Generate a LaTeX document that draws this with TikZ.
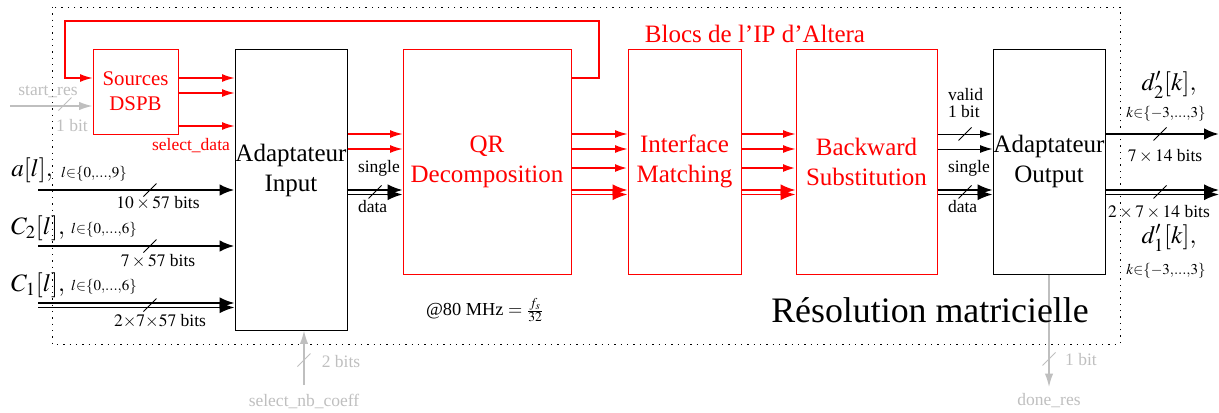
\documentclass[tikz,border=0pt]{standalone}
\usepackage{mathptmx}
\usepackage[no-math]{fontspec}
\setmainfont{Liberation Serif}
\usetikzlibrary{arrows.meta}

\tikzset{
  blk/.style={draw, line width=0.6pt, inner sep=0pt, align=center, font=\fontsize{15}{18}\selectfont},
  ipblk/.style={blk, red, text=red},
  sig/.style={red, line width=0.7pt, -{Latex[length=7.5pt,width=4.8pt]}},
  sigw/.style={sig, line width=1.3pt},
  bus/.style={line width=1.5pt, -{Latex[length=9pt,width=7pt]}},
  dbus/.style={line width=1.1pt, -{Latex[length=9pt,width=7pt]}},
  wire/.style={line width=0.6pt, -{Latex[length=7.5pt,width=4.8pt]}},
  ctl/.style={black!25, line width=0.8pt, -{Latex[length=8pt,width=5pt]}},
  lbl/.style={inner sep=1pt, font=\fontsize{10.5}{12.5}\selectfont},
  idx/.style={inner sep=1pt, font=\fontsize{12}{14}\selectfont},
  big/.style={inner sep=1pt, align=center, font=\fontsize{15}{18}\selectfont},
}

\newcommand\busmark[2][]{\draw[line width=0.5pt,#1] ([shift={(-6.5,6.5)}]#2) -- ([shift={(6.5,-6.5)}]#2);}

\begin{document}
\begin{tikzpicture}[x=0.6pt, y=-0.6pt]

% Size of the picture
\useasboundingbox (0,0) rectangle (1219,412);

% Levels of the signals
\coordinate (yS1) at (0,78);
\coordinate (yS2) at (0,93);
\coordinate (yS3) at (0,126);
\coordinate (yStart) at (0,106);
\coordinate (yR1) at (0,134);
\coordinate (yR2) at (0,149);
\coordinate (yR3) at (0,168);
\coordinate (yD1) at (0,190);
\coordinate (yD2) at (0,194.5);
\coordinate (yA) at (0,190);
\coordinate (yC2) at (0,246);
\coordinate (yC1a) at (0,303);
\coordinate (yC1b) at (0,307.5);

% Free ends
\coordinate (startIn) at (10,106);
\coordinate (aIn) at (38,190);
\coordinate (c2In) at (38,246);
\coordinate (c1InA) at (38,303);
\coordinate (c1InB) at (38,307.5);
\coordinate (nbIn) at (304,385);
\coordinate (doneOut) at (1049,387);
\coordinate (d2Out) at (1219,134);
\coordinate (d1OutA) at (1219,190);
\coordinate (d1OutB) at (1219,194.5);
\coordinate (fbR) at (599,21);
\coordinate (fbL) at (65,21);

% Dotted frame
\draw[line width=0.6pt, dash pattern=on 0.8pt off 3pt] (52,7) rectangle (1120,344);

% Blocks
\node[ipblk, minimum width=51pt, minimum height=51pt, font=\fontsize{12.5}{15}\selectfont] (src) at (135.5,91.5) {Sources\\DSPB};
\node[blk, minimum width=67.2pt, minimum height=168.6pt] (ai) at (291,189.5) {};
\node[big] (aiTxt) at (291,170) {Adaptateur\\Input};
\node[ipblk, minimum width=100.8pt, minimum height=135pt] (qr) at (487,161.5) {QR\\Decomposition};
\node[ipblk, minimum width=67.8pt, minimum height=135pt] (im) at (684.5,161.5) {Interface\\Matching};
\node[ipblk, minimum width=84.6pt, minimum height=135pt] (bs) at (866.5,161.5) {Backward\\Substitution};
\node[blk, minimum width=67.2pt, minimum height=135pt] (ao) at (1049,161.5) {Adaptateur\\Output};

% Feedback of the IP
\draw[sig] (qr.east |- yS1) -| (fbR) -- (fbL) |- (src.west |- yS1);

% Sources to input adapter
\draw[sig] (src.east |- yS1) -- (ai.west |- yS1);
\draw[sig] (src.east |- yS2) -- (ai.west |- yS2);
\draw[sig] (src.east |- yS3) -- (ai.west |- yS3);
\draw[ctl] (startIn) -- (src.west |- yStart);

% Inputs
\draw[bus] (aIn) -- (ai.west |- yA);
\draw[bus] (c2In) -- (ai.west |- yC2);
\draw[dbus] (c1InA) -- (ai.west |- yC1a);
\draw[dbus] (c1InB) -- (ai.west |- yC1b);

% Input adapter to QR
\draw[sig] (ai.east |- yR1) -- (qr.west |- yR1);
\draw[sig] (ai.east |- yR2) -- (qr.west |- yR2);
\draw[dbus] (ai.east |- yD1) -- (qr.west |- yD1);
\draw[dbus] (ai.east |- yD2) -- (qr.west |- yD2);

% QR to interface
\draw[sig] (qr.east |- yR1) -- (im.west |- yR1);
\draw[sig] (qr.east |- yR2) -- (im.west |- yR2);
\draw[sigw] (qr.east |- yR3) -- (im.west |- yR3);
\draw[dbus, red] (qr.east |- yD1) -- (im.west |- yD1);
\draw[dbus, red] (qr.east |- yD2) -- (im.west |- yD2);

% Interface to backward
\draw[sig] (im.east |- yR1) -- (bs.west |- yR1);
\draw[sig] (im.east |- yR2) -- (bs.west |- yR2);
\draw[sigw] (im.east |- yR3) -- (bs.west |- yR3);
\draw[dbus, red] (im.east |- yD1) -- (bs.west |- yD1);
\draw[dbus, red] (im.east |- yD2) -- (bs.west |- yD2);

% Backward to output adapter
\draw[wire] (bs.east |- yR1) -- (ao.west |- yR1);
\draw[wire] (bs.east |- yR2) -- (ao.west |- yR2);
\draw[dbus] (bs.east |- yD1) -- (ao.west |- yD1);
\draw[dbus] (bs.east |- yD2) -- (ao.west |- yD2);

% Outputs
\draw[bus] (ao.east |- yR1) -- (d2Out);
\draw[dbus] (ao.east |- yD1) -- (d1OutA);
\draw[dbus] (ao.east |- yD2) -- (d1OutB);

% Control signals
\draw[ctl] (nbIn) -- (ai.south -| nbIn);
\draw[ctl] (ao.south) -- (doneOut);

% Bus width marks
\coordinate (mStart) at (65,104);
\coordinate (mA) at (150,190);
\coordinate (mC2) at (150,246);
\coordinate (mC1) at (150,305);
\coordinate (mAI) at (375,192);
\coordinate (mValid) at (965,134);
\coordinate (mBS) at (965,192);
\coordinate (mD2) at (1160,134);
\coordinate (mD1) at (1160,192);
\coordinate (mNb) at (304,360);
\coordinate (mDone) at (1049,359);
\busmark[black!25]{mStart}
\busmark{mA}
\busmark{mC2}
\busmark{mC1}
\busmark{mAI}
\busmark{mValid}
\busmark{mBS}
\busmark{mD2}
\busmark{mD1}
\busmark[black!25]{mNb}
\busmark[black!25]{mDone}

% Labels
\node[lbl, text=black!25] (startLbl) at (48,92) {start\_res};
\node[lbl, text=black!25] (startBits) at (72,126) {1 bit};
\node[lbl, text=red] (selLbl) at (191,146) {select\_data};
\node[big] (aLbl) at (32,170) {$a[l],$};
\node[idx] (aIdx) at (94,174) {$\scriptstyle l\in\{0,\ldots,9\}$};
\node[lbl] (aBits) at (158,203) {$10\times57$ bits};
\node[big] (c2Lbl) at (38,228) {$C_2[l],$};
\node[idx] (c2Idx) at (104,230) {$\scriptstyle l\in\{0,\ldots,6\}$};
\node[lbl] (c2Bits) at (158,261) {$7\times57$ bits};
\node[big] (c1Lbl) at (38,285) {$C_1[l],$};
\node[idx] (c1Idx) at (104,287) {$\scriptstyle l\in\{0,\ldots,6\}$};
\node[lbl] (c1Bits) at (160,321) {$2{\times}7{\times}57$ bits};
\node[lbl, anchor=west] (aiSingle) at (356,168) {single};
\node[lbl, anchor=west] (aiData) at (356,207) {data};
\node[big, text=red] (ipLbl) at (755,34) {Blocs de l’IP d’Altera};
\node[lbl, anchor=west] (bsValid) at (946,95) {valid};
\node[lbl, anchor=west] (bsBit) at (946,112) {1 bit};
\node[lbl, anchor=west] (bsSingle) at (946,168) {single};
\node[lbl, anchor=west] (bsData) at (946,207) {data};
\node[big] (d2Lbl) at (1169,85) {$d'_2[k],$};
\node[idx] (d2Idx) at (1166,114) {$\scriptstyle k\in\{-3,\ldots,3\}$};
\node[lbl] (d2Bits) at (1165,156) {$7\times14$ bits};
\node[lbl] (d1Bits) at (1159,212) {$2\times7\times14$ bits};
\node[big] (d1Lbl) at (1169,238) {$d'_1[k],$};
\node[idx] (d1Idx) at (1166,271) {$\scriptstyle k\in\{-3,\ldots,3\}$};
\node[lbl, font=\fontsize{11}{13}\selectfont] (clkLbl) at (485,310) {@80 MHz $=\frac{f_s}{32}$};
\node[inner sep=1pt, font=\fontsize{21.5}{26}\selectfont] (titleLbl) at (930,310) {Résolution matricielle};
\node[lbl, text=black!25] (nbBits) at (341,362) {2 bits};
\node[lbl, text=black!25] (nbLbl) at (304,401) {select\_nb\_coeff};
\node[lbl, text=black!25] (doneBits) at (1081,360) {1 bit};
\node[lbl, text=black!25] (doneLbl) at (1049,401) {done\_res};

\end{tikzpicture}
\end{document}
